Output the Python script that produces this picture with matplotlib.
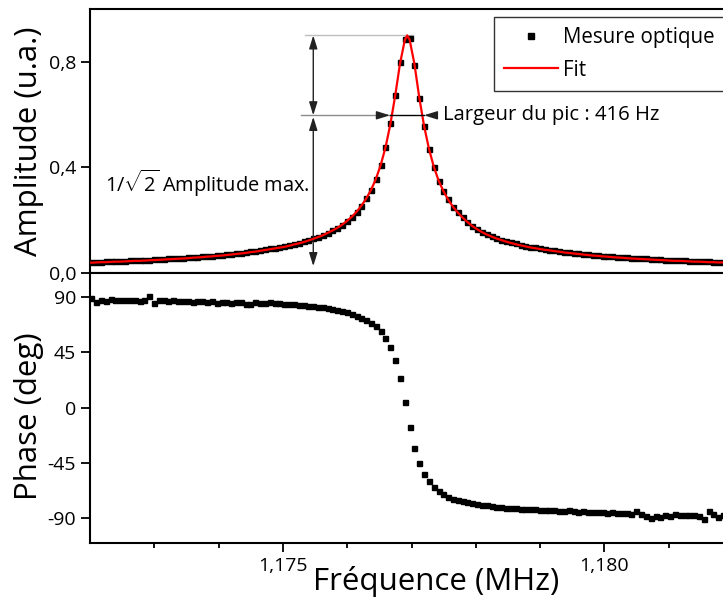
import matplotlib
matplotlib.use("Agg")
import matplotlib.pyplot as plt
from matplotlib.lines import Line2D
import numpy as np

plt.rcParams['font.family'] = ['Open Sans', 'DejaVu Sans']
plt.rcParams['mathtext.fontset'] = 'custom'
plt.rcParams['mathtext.rm'] = 'Open Sans'

# sweep frequencies (Hz)
freq_hz = [
    1172020, 1172095, 1172170, 1172245, 1172320, 1172395, 1172470, 1172545, 1172620, 1172695,
    1172770, 1172845, 1172920, 1172995, 1173070, 1173145, 1173220, 1173295, 1173370, 1173445,
    1173520, 1173595, 1173670, 1173745, 1173820, 1173895, 1173970, 1174045, 1174120, 1174195,
    1174270, 1174345, 1174420, 1174495, 1174570, 1174645, 1174720, 1174795, 1174870, 1174945,
    1175020, 1175095, 1175170, 1175245, 1175320, 1175395, 1175470, 1175545, 1175620, 1175695,
    1175770, 1175845, 1175920, 1175995, 1176070, 1176145, 1176220, 1176295, 1176370, 1176445,
    1176520, 1176595, 1176670, 1176745, 1176820, 1176895, 1176970, 1177045, 1177120, 1177195,
    1177270, 1177345, 1177420, 1177495, 1177570, 1177645, 1177720, 1177795, 1177870, 1177945,
    1178020, 1178095, 1178170, 1178245, 1178320, 1178395, 1178470, 1178545, 1178620, 1178695,
    1178770, 1178845, 1178920, 1178995, 1179070, 1179145, 1179220, 1179295, 1179370, 1179445,
    1179520, 1179595, 1179670, 1179745, 1179820, 1179895, 1179970, 1180045, 1180120, 1180195,
    1180270, 1180345, 1180420, 1180495, 1180570, 1180645, 1180720, 1180795, 1180870, 1180945,
    1181020, 1181095, 1181170, 1181245, 1181320, 1181395, 1181470, 1181545, 1181620, 1181695,
    1181770, 1181845,
]

# mesure optique - amplitude (u.a.)
amp = [
    0.041, 0.042, 0.042, 0.043, 0.044, 0.044, 0.045, 0.046, 0.047, 0.047,
    0.048, 0.049, 0.050, 0.051, 0.052, 0.053, 0.054, 0.055, 0.056, 0.057,
    0.058, 0.060, 0.061, 0.062, 0.064, 0.065, 0.067, 0.068, 0.070, 0.072,
    0.074, 0.076, 0.078, 0.081, 0.083, 0.086, 0.089, 0.092, 0.095, 0.098,
    0.101, 0.105, 0.109, 0.114, 0.119, 0.124, 0.130, 0.137, 0.144, 0.152,
    0.161, 0.171, 0.182, 0.196, 0.212, 0.232, 0.254, 0.282, 0.314, 0.356,
    0.410, 0.477, 0.566, 0.674, 0.798, 0.888, 0.889, 0.789, 0.662, 0.555,
    0.470, 0.402, 0.349, 0.310, 0.278, 0.251, 0.229, 0.210, 0.193, 0.178,
    0.166, 0.156, 0.147, 0.139, 0.132, 0.126, 0.120, 0.115, 0.111, 0.106,
    0.102, 0.099, 0.096, 0.093, 0.090, 0.088, 0.085, 0.083, 0.080, 0.078,
    0.076, 0.074, 0.072, 0.070, 0.068, 0.067, 0.065, 0.064, 0.062, 0.061,
    0.060, 0.058, 0.057, 0.056, 0.055, 0.054, 0.053, 0.052, 0.051, 0.050,
    0.049, 0.048, 0.047, 0.047, 0.046, 0.045, 0.044, 0.044, 0.043, 0.042,
    0.042, 0.041,
]

# fit curve, same sweep + apex
fit_amp = [
    0.038, 0.039, 0.040, 0.040, 0.041, 0.042, 0.042, 0.043, 0.044, 0.045,
    0.045, 0.046, 0.047, 0.048, 0.049, 0.050, 0.051, 0.052, 0.053, 0.054,
    0.055, 0.057, 0.058, 0.059, 0.061, 0.062, 0.064, 0.065, 0.067, 0.069,
    0.071, 0.073, 0.075, 0.078, 0.080, 0.083, 0.086, 0.089, 0.092, 0.095,
    0.098, 0.102, 0.107, 0.111, 0.116, 0.122, 0.128, 0.135, 0.142, 0.151,
    0.160, 0.170, 0.182, 0.196, 0.212, 0.231, 0.254, 0.281, 0.314, 0.355,
    0.408, 0.475, 0.562, 0.670, 0.792, 0.882, 0.884, 0.792, 0.665, 0.557,
    0.471, 0.403, 0.350, 0.310, 0.277, 0.250, 0.228, 0.209, 0.192, 0.177,
    0.165, 0.154, 0.145, 0.137, 0.130, 0.124, 0.118, 0.113, 0.108, 0.104,
    0.100, 0.096, 0.093, 0.090, 0.087, 0.085, 0.082, 0.080, 0.077, 0.075,
    0.073, 0.071, 0.069, 0.067, 0.065, 0.064, 0.062, 0.061, 0.059, 0.058,
    0.057, 0.055, 0.054, 0.053, 0.052, 0.051, 0.050, 0.049, 0.048, 0.047,
    0.046, 0.045, 0.045, 0.044, 0.043, 0.042, 0.042, 0.041, 0.040, 0.040,
    0.039, 0.039,
]
fit_peak_hz = 1176932
fit_peak_amp = 0.900

# phase (deg)
phase = [
    89.8, 86.5, 87.8, 87.0, 88.5, 88.0, 87.6, 87.8, 87.4, 87.6,
    87.2, 87.5, 91.0, 85.5, 87.8, 87.6, 87.3, 87.7, 87.0, 86.8,
    87.3, 86.0, 86.6, 86.9, 86.3, 86.8, 85.4, 85.8, 86.0, 85.5,
    86.2, 85.8, 84.6, 84.2, 85.8, 85.2, 85.6, 85.9, 85.7, 85.2,
    84.9, 84.6, 84.3, 83.9, 83.6, 83.2, 82.8, 82.3, 81.9, 81.3,
    80.7, 79.8, 78.5, 77.7, 76.6, 75.0, 73.1, 71.2, 69.0, 66.8,
    62.7, 56.8, 49.5, 39.0, 24.0, 4.7, -15.5, -32.7, -45.1, -54.0,
    -60.0, -64.6, -68.1, -70.7, -72.8, -74.4, -75.5, -76.4, -77.1, -77.7,
    -78.4, -79.0, -79.5, -80.0, -80.5, -81.0, -81.4, -81.8, -82.0, -82.3,
    -82.6, -82.5, -82.9, -83.2, -83.0, -83.6, -83.4, -83.9, -84.2, -83.7,
    -84.3, -84.6, -84.2, -85.0, -84.8, -85.3, -85.1, -85.6, -85.2, -85.9,
    -86.1, -85.7, -86.4, -84.0, -86.5, -88.2, -89.7, -88.6, -89.4, -87.6,
    -87.9, -86.5, -87.3, -87.6, -87.8, -87.7, -88.3, -90.3, -83.8, -86.2,
    -88.9, -87.5,
]

amp_ticks = [0.0, 0.4, 0.8]
amp_ticklabels = ['0,0', '0,4', '0,8']
phase_ticks = [-90, -45, 0, 45, 90]
phase_ticklabels = ['-90', '-45', '0', '45', '90']
freq_ticks = [1.175, 1.180]
freq_ticklabels = ['1,175', '1,180']
freq_minor = [1.173, 1.174, 1.176, 1.177, 1.178, 1.179, 1.181]

f = np.array(freq_hz) / 1e6
fit_f = np.insert(f, 66, fit_peak_hz / 1e6)
fit_y = np.insert(np.array(fit_amp), 66, fit_peak_amp)

fig = plt.figure(figsize=(7.23, 6.07), dpi=100)
ax1 = fig.add_axes([0.1245, 0.5507, 0.8894, 0.4344])
ax2 = fig.add_axes([0.1245, 0.1059, 0.8894, 0.4448])

for ax in (ax1, ax2):
    ax.set_xlim(1.172, 1.182)
    for s in ax.spines.values():
        s.set_linewidth(1.5)
    ax.spines['right'].set_visible(False)
    ax.tick_params(which='major', direction='out', length=6.5, width=1.3, labelsize=14)
    ax.tick_params(which='minor', direction='out', length=3.5, width=1.3)
    ax.set_xticks(freq_ticks)
    ax.set_xticks(freq_minor, minor=True)

ax1.tick_params(axis='x', which='both', labelbottom=False)
ax2.set_xticklabels(freq_ticklabels)

ax1.set_ylim(0, 1.0)
ax1.set_yticks(amp_ticks)
ax1.set_yticklabels(amp_ticklabels)
ax2.set_ylim(-110, 110)
ax2.set_yticks(phase_ticks)
ax2.set_yticklabels(phase_ticklabels)

ax1.plot(f, amp, 's', color='black', ms=3.6, zorder=3)
ax1.plot(fit_f, fit_y, color='red', lw=1.6, zorder=4)
ax2.plot(f, phase, 's', color='black', ms=3.6, zorder=3)

# annotations
xv = 1.175472
ax1.plot([1.175343, 1.177022], [0.90, 0.90], color='#bdbdbd', lw=1.0, zorder=2)
ax1.plot([1.175280, 1.176664], [0.597, 0.597], color='#8c8c8c', lw=1.0, zorder=2)
ax1.plot([1.176664, 1.177193], [0.597, 0.597], color='black', lw=1.0, zorder=5)
arrow = dict(arrowstyle='-|>,head_length=0.8,head_width=0.25', color='#222222', lw=1.0,
             shrinkA=0, shrinkB=0, mutation_scale=10)
arrow2 = dict(arrowstyle='<|-|>,head_length=0.8,head_width=0.25', color='#222222', lw=1.0,
              shrinkA=0, shrinkB=0, mutation_scale=10)
ax1.annotate('', xy=(1.176664, 0.597), xytext=(1.176500, 0.597), arrowprops=arrow, zorder=5)
ax1.annotate('', xy=(1.177193, 0.597), xytext=(1.177360, 0.597), arrowprops=arrow, zorder=5)
ax1.annotate('', xy=(xv, 0.90), xytext=(xv, 0.597), arrowprops=arrow2)
ax1.annotate('', xy=(xv, 0.591), xytext=(xv, 0.025), arrowprops=arrow2)
ax1.text(1.177484, 0.597, 'Largeur du pic : 416 Hz', fontsize=14.6, va='center', ha='left')
ax1.text(1.172233, 0.339, r'1/$\sqrt{2}$ Amplitude max.', fontsize=14.4, va='center', ha='left')

handles = [Line2D([], [], ls='none', marker='s', color='black', ms=4.2),
           Line2D([], [], color='red', lw=1.6)]
leg = ax1.legend(handles, ['Mesure optique', 'Fit'], loc='upper left',
                 bbox_to_anchor=(0.628, 0.970), borderaxespad=0, fontsize=14.8,
                 frameon=True, fancybox=False, handlelength=2.6, handletextpad=0.25,
                 borderpad=0.5, labelspacing=0.55)
leg.get_frame().set_edgecolor('black')
leg.get_frame().set_linewidth(1.0)

ax1.set_ylabel('Amplitude (u.a.)', fontsize=22.5)
ax1.yaxis.set_label_coords(-0.072, 0.5)
ax2.set_ylabel('Phase (deg)', fontsize=22.5)
ax2.yaxis.set_label_coords(-0.072, 0.469)
ax2.set_xlabel('Fréquence (MHz)', fontsize=22.5)
ax2.xaxis.set_label_coords(0.538, -0.085)

fig.savefig('out.png', dpi=100)
